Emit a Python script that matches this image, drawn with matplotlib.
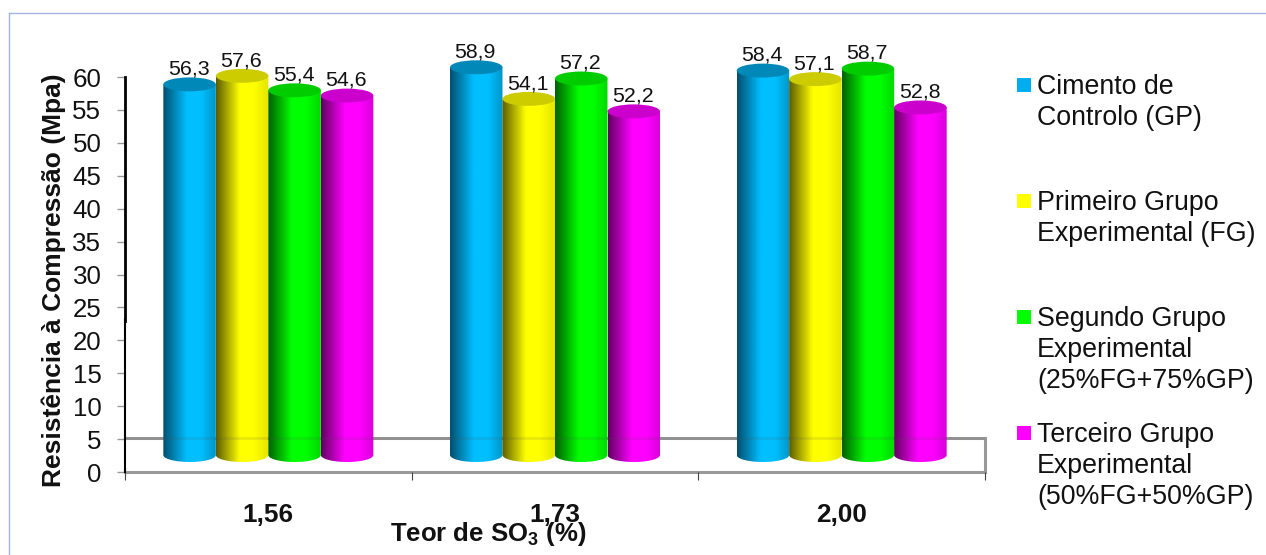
import numpy as np
import matplotlib
matplotlib.use("Agg")
import matplotlib.pyplot as plt
from matplotlib.colors import LinearSegmentedColormap
from matplotlib.patches import Ellipse
from matplotlib.path import Path
from matplotlib.patches import PathPatch

plt.rcParams['font.family'] = ['Liberation Sans', 'DejaVu Sans']
plt.rcParams['mathtext.fontset'] = 'custom'
plt.rcParams['mathtext.bf'] = 'Liberation Sans:bold'

# compressive strength per SO3 content
categories = ['1,56', '1,73', '2,00']
control = [56.3, 58.9, 58.4]
first_group = [57.6, 54.1, 57.1]
second_group = [55.4, 57.2, 58.7]
third_group = [54.6, 52.2, 52.8]
series = [control, first_group, second_group, third_group]

legend_labels = [
    ['Cimento de', 'Controlo (GP)'],
    ['Primeiro Grupo', 'Experimental (FG)'],
    ['Segundo Grupo', 'Experimental', '(25%FG+75%GP)'],
    ['Terceiro Grupo', 'Experimental', '(50%FG+50%GP)'],
]
legend_y = [86, 202, 318, 434]

# dark edge, bright band, right edge, cap
bar_colors = [
    ('#004f70', '#00bfff', '#0096c8', '#0088b8'),
    ('#5c5c00', '#ffff00', '#e4e400', '#cccc00'),
    ('#006000', '#00ff00', '#00d800', '#00cc00'),
    ('#600060', '#ff00ff', '#d800d8', '#cc00cc'),
]
square_colors = ['#00aeef', '#ffff00', '#00ff00', '#ff00ff']

W, H = 1266, 555
px_per_unit = 6.583
x0, x1, y_zero = 125, 985, 472
y_top = 66
floor_mid = 2.58    # bars stand in the middle of the 3D floor
floor_back = 5.16
cap_h = 1.06 * 2
bar_w = 52.5 / ((x1 - x0) / 3)

fig = plt.figure(figsize=(W / 100, H / 100), dpi=100, facecolor='white')
ax = fig.add_axes([x0 / W, 1 - y_zero / H, (x1 - x0) / W, y_top * px_per_unit / H])
ax.patch.set_visible(False)

# floor of the 3D plot
grey = '#999999'
ax.plot([0, 3], [floor_back, floor_back], color=grey, lw=2.2, zorder=1, solid_capstyle='butt')
ax.plot([3, 3], [0, floor_back], color=grey, lw=2.2, zorder=1, solid_capstyle='projecting', clip_on=False)
ax.plot([0, 3], [0, 0], color=grey, lw=2.2, zorder=1, clip_on=False)

for c in range(3):
    for s, values in enumerate(series):
        v = values[c]
        left = c + 0.5 + (s - 2) * bar_w
        right = left + bar_w
        mid = (left + right) / 2
        top = floor_mid + v
        dark, bright, edge, cap = bar_colors[s]
        cmap = LinearSegmentedColormap.from_list(
            'cyl', [(0, dark), (0.45, bright), (0.72, bright), (1, edge)])
        grad = np.linspace(0, 1, 128).reshape(1, -1)
        im = ax.imshow(grad, cmap=cmap, extent=[left, right, floor_mid - cap_h, top],
                       aspect='auto', zorder=3 + s * 0.1, interpolation='bilinear')
        # body: straight sides and a rounded bottom
        t = np.linspace(np.pi, 2 * np.pi, 40)
        verts = [(left, top)] + list(zip(mid + bar_w / 2 * np.cos(t),
                                         floor_mid + cap_h / 2 * np.sin(t))) + [(right, top), (left, top)]
        clip = PathPatch(Path(verts), transform=ax.transData, fc='none', ec='none')
        ax.add_patch(clip)
        im.set_clip_path(clip)
        ax.add_patch(Ellipse((mid, top), bar_w, cap_h, fc=cap, ec='none', zorder=3.5 + s * 0.1))
        ax.annotate(f'{v:.1f}'.replace('.', ','), (mid, top), xytext=(-0.7, 4.2),
                    textcoords='offset points', ha='center', va='bottom',
                    fontsize=15.4, color='#111111', zorder=6)

# floor line shows faintly through the bars
ax.plot([0, 3], [floor_back, floor_back], color='#555555', lw=2, alpha=0.13, zorder=5,
        solid_capstyle='butt')

ax.set_xlim(0, 3)
ax.set_ylim(0, y_top)

for side in ['top', 'right', 'bottom']:
    ax.spines[side].set_visible(False)
ax.spines['left'].set_bounds(23, 60)
ax.spines['left'].set_linewidth(2.0)
ax.spines['left'].set_color('black')
ax.plot([0.0015, 0.0015], [0, 23.2], color='black', lw=1.5, zorder=7, clip_on=False)

ax.set_yticks(np.arange(0, 61, 5))
ax.tick_params(axis='y', length=6, width=1, color=grey, labelsize=18.6, pad=11, labelcolor='#111111')
ax.set_xticks([0.5, 1.5, 2.5])
ax.set_xticklabels(categories, fontweight='bold', fontsize=18.8)
ax.tick_params(axis='x', length=0, pad=22, labelcolor='#111111')
ax.set_xticks([0, 1, 2, 3], minor=True)
ax.tick_params(axis='x', which='minor', length=6, width=0.8, color='#444444')

fig.text(54 / W, 1 - 280 / H, 'Resistência à Compressão (Mpa)', rotation=90, ha='center', va='center',
         fontsize=19, fontweight='bold', color='#111111')
fig.text(488 / W, 1 - 534 / H, r'Teor de SO$_{\mathbf{3}}$ (%)', ha='center', va='center',
         fontsize=18.5, fontweight='bold', color='#111111')

# legend written by hand, one text per line
for lines, y, col in zip(legend_labels, legend_y, square_colors):
    fig.patches.append(plt.Rectangle((1017 / W, 1 - (y + 6) / H), 14 / W, 14 / H, fc=col, ec='none',
                                     transform=fig.transFigure))
    for n, line in enumerate(lines):
        fig.text(1037 / W, 1 - (y + 1 + n * 31) / H, line, ha='left', va='center',
                 fontsize=19.3, color='#111111')

# outer chart frame, only the top and left edges are in view
frame_col = '#9fb5de'
fig.add_artist(plt.Line2D([9 / W, 9 / W], [0, 1 - 13 / H], color=frame_col, lw=1))
fig.add_artist(plt.Line2D([9 / W, 1], [1 - 13 / H, 1 - 13 / H], color=frame_col, lw=1))

fig.savefig('out.png', dpi=100)
